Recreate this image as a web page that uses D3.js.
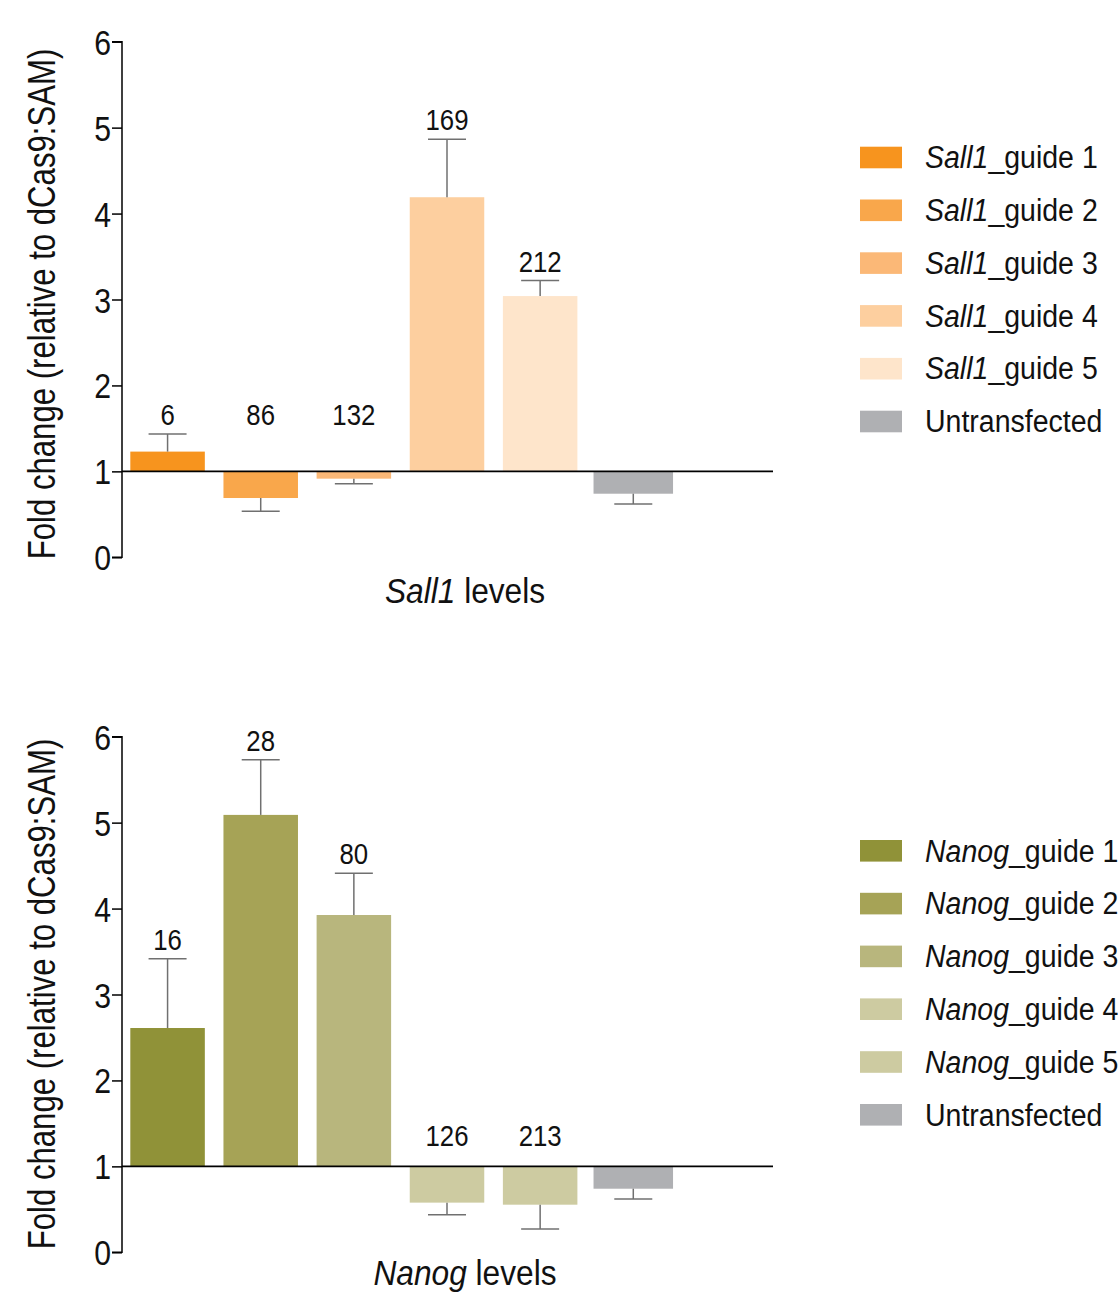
<!DOCTYPE html>
<html>
<head>
<meta charset="utf-8">
<script src="https://cdn.jsdelivr.net/npm/d3@7/dist/d3.min.js"></script>
<style>
  html, body { margin: 0; padding: 0; background: #fff; }
  svg { display: block; }
  text { font-family: "Liberation Sans", Arial, Helvetica, sans-serif; fill: #111; }
</style>
</head>
<body>
<svg id="chart" width="1118" height="1296"></svg>
<script>
// ---- data ----
const guideNames = ["guide 1", "guide 2", "guide 3", "guide 4", "guide 5", "Untransfected"];
const yTicks = [0, 1, 2, 3, 4, 5, 6];

// Sall1 activation: mean fold change, SD, and label above each bar
const sall1Means  = [1.23, 0.69, 0.915, 4.19, 3.04, 0.74];
const sall1Errors = [0.205, 0.155, 0.058, 0.676, 0.18, 0.12];
const sall1Labels = ["6", "86", "132", "169", "212", ""];
const sall1Colors = ["#f7941e", "#f9a74b", "#fbb877", "#fdcf9f", "#fee5cb", "#afb0b3"];

// Nanog activation
const nanogMeans  = [2.61, 5.09, 3.925, 0.578, 0.554, 0.74];
const nanogErrors = [0.807, 0.643, 0.485, 0.14, 0.283, 0.12];
const nanogLabels = ["16", "28", "80", "126", "213", ""];
const nanogColors = ["#909238", "#a6a356", "#b8b67d", "#cdcba1", "#cdcba1", "#afb0b3"];

// ---- layout ----
const svg = d3.select("#chart");
const plotLeft = 122, plotRight = 773;

const panels = [
  { gene: "Sall1", means: sall1Means, errors: sall1Errors, labels: sall1Labels, colors: sall1Colors,
    yTop: 41.7, yBottom: 557.3, legendTop: 146.7, negLabelGap: 46, titleY: 603, yTitleCenter: 304 },
  { gene: "Nanog", means: nanogMeans, errors: nanogErrors, labels: nanogLabels, colors: nanogColors,
    yTop: 736.7, yBottom: 1252.3, legendTop: 840, negLabelGap: 20, titleY: 1285, yTitleCenter: 994 }
];

const x = d3.scaleBand()
  .domain(guideNames)
  .range([plotLeft - 1, plotLeft - 1 + (plotRight - plotLeft + 1) * 6 / 7])
  .paddingInner(0.2)
  .paddingOuter(0.1);

panels.forEach(p => {
  const g = svg.append("g");
  const y = d3.scaleLinear().domain([0, 6]).range([p.yBottom, p.yTop]);
  const base = y(1);

  const rows = guideNames.map((name, i) => ({
    name, mean: p.means[i], err: p.errors[i], label: p.labels[i], color: p.colors[i],
    control: name === "Untransfected"
  }));

  // bars grow up or down from the fold-change = 1 reference line
  g.selectAll("rect.bar").data(rows).join("rect")
    .attr("class", "bar")
    .attr("x", d => x(d.name) - (d.control ? 2.5 : 0))
    .attr("width", d => x.bandwidth() + (d.control ? 5 : 0))
    .attr("y", d => Math.min(y(d.mean), base))
    .attr("height", d => Math.abs(y(d.mean) - base))
    .attr("fill", d => d.color);

  // one-sided error bars pointing away from the reference line
  const tip = d => d.mean >= 1 ? d.mean + d.err : d.mean - d.err;
  const cx = d => x(d.name) + x.bandwidth() / 2;
  const eb = g.selectAll("g.err").data(rows).join("g").attr("class", "err");
  eb.append("line")
    .attr("x1", cx).attr("x2", cx)
    .attr("y1", d => y(d.mean)).attr("y2", d => y(tip(d)))
    .attr("stroke", "#707070").attr("stroke-width", 1.5);
  eb.append("line")
    .attr("x1", d => cx(d) - 19).attr("x2", d => cx(d) + 19)
    .attr("y1", d => y(tip(d))).attr("y2", d => y(tip(d)))
    .attr("stroke", "#707070").attr("stroke-width", 1.5);

  // guide counts above the bars
  g.selectAll("text.count").data(rows.filter(d => d.label)).join("text")
    .attr("class", "count")
    .attr("transform", d => {
      const ty = d.mean >= 1 ? y(tip(d)) - 9 : base - p.negLabelGap;
      return `translate(${cx(d)},${ty}) scale(0.86,1)`;
    })
    .attr("text-anchor", "middle")
    .style("font-size", "30px")
    .text(d => d.label);

  // reference line at fold change = 1
  g.append("line")
    .attr("x1", plotLeft).attr("x2", plotRight)
    .attr("y1", base).attr("y2", base)
    .attr("stroke", "#000").attr("stroke-width", 1.6);

  // y axis
  const axis = g.append("g")
    .attr("transform", `translate(${plotLeft},0)`)
    .call(d3.axisLeft(y).tickValues(yTicks).tickSize(10).tickPadding(0).tickFormat(d3.format("d")));
  axis.select(".domain").attr("stroke", "#000").attr("stroke-width", 1.5)
    .attr("d", `M-10,${y(6)}H0V${y(0)}H-10`);
  axis.selectAll(".tick line").attr("stroke", "#000").attr("stroke-width", 1.5);
  axis.selectAll(".tick text")
    .attr("x", null).attr("dy", null)
    .attr("transform", "translate(-11,12.5) scale(0.84,1)")
    .attr("fill", "#111")
    .style("font-size", "36px")
    .style("font-family", "'Liberation Sans', Arial, sans-serif");

  // y axis title
  g.append("text")
    .attr("transform", `translate(55,${p.yTitleCenter}) rotate(-90) scale(0.82,1)`)
    .attr("text-anchor", "middle")
    .style("font-size", "38px")
    .text("Fold change (relative to dCas9:SAM)");

  // x axis title
  const xt = g.append("text")
    .attr("transform", `translate(465,${p.titleY}) scale(0.88,1)`)
    .attr("text-anchor", "middle")
    .style("font-size", "36px");
  xt.append("tspan").style("font-style", "italic").text(p.gene);
  xt.append("tspan").text(" levels");

  // legend
  const leg = g.selectAll("g.leg").data(rows).join("g")
    .attr("class", "leg")
    .attr("transform", (d, i) => `translate(860,${p.legendTop + i * 52.8})`);
  leg.append("rect").attr("width", 42).attr("height", 21.6).attr("fill", d => d.color);
  const lt = leg.append("text")
    .attr("transform", "translate(65,21.5) scale(0.92,1)")
    .style("font-size", "31px");
  lt.filter(d => !d.control).append("tspan").style("font-style", "italic").text(p.gene);
  lt.append("tspan").text(d => d.control ? d.name : "_" + d.name);
});
</script>
</body>
</html>
